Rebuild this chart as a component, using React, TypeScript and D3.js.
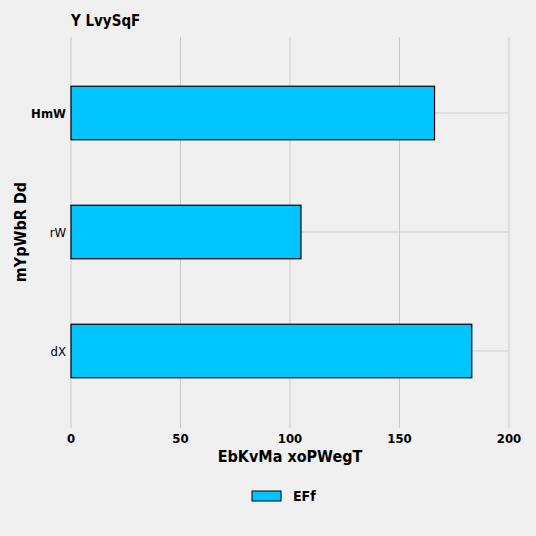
import { scaleBand, scaleLinear } from "d3";

const categories = ["HmW", "rW", "dX"];
const values = [166, 105, 183];
const xTicks = [0, 50, 100, 150, 200];
const boldCats = ["HmW"];

const FONT = "'Liberation Sans Narrow', 'DejaVu Sans Condensed', 'Liberation Sans', sans-serif";

export default function App() {
  const x = scaleLinear().domain([0, 200]).range([71, 509]);
  const y = scaleBand<string>()
    .domain(categories)
    .range([53.5, 410.5])
    .paddingInner(0.55)
    .paddingOuter(0.275);

  return (
    <svg
      width={536}
      height={536}
      style={{ position: "absolute", left: 0, top: 0, background: "#f0f0f0" }}
      fontFamily={FONT}
    >
      <rect width={536} height={536} fill="#f0f0f0" />
      <text x={71} y={26} fontSize={15} fontWeight="bold">Y LvySqF</text>

      {/* grid */}
      {xTicks.map((t) => (
        <line key={t} x1={x(t)} x2={x(t)} y1={37} y2={428} stroke="#cbcbcb" strokeWidth={1} />
      ))}
      {categories.map((c) => (
        <line
          key={c}
          x1={71}
          x2={509}
          y1={y(c)! + y.bandwidth() / 2}
          y2={y(c)! + y.bandwidth() / 2}
          stroke="#cbcbcb"
        />
      ))}

      {/* bars */}
      {categories.map((c, i) => (
        <rect
          key={c}
          x={x(0)}
          y={y(c)}
          width={x(values[i]) - x(0)}
          height={y.bandwidth()}
          fill="#00c5ff"
          stroke="#000"
          strokeWidth={1.2}
        />
      ))}

      {/* y labels */}
      {categories.map((c) => (
        <text
          key={c}
          x={66}
          y={y(c)! + y.bandwidth() / 2}
          textAnchor="end"
          dominantBaseline="central"
          fontSize={13}
          fontWeight={boldCats.includes(c) ? "bold" : "normal"}
        >
          {c}
        </text>
      ))}

      {/* x ticks */}
      {xTicks.map((t) => (
        <text key={t} x={x(t)} y={443} textAnchor="middle" fontSize={13} fontWeight="bold">
          {t}
        </text>
      ))}

      <text x={290} y={462} textAnchor="middle" fontSize={16} fontWeight="bold">
        EbKvMa xoPWegT
      </text>
      <text
        transform="translate(26,232) rotate(-90)"
        textAnchor="middle"
        fontSize={16}
        fontWeight="bold"
      >
        mYpWbR Dd
      </text>

      {/* legend */}
      <rect x={252} y={491} width={29} height={10} fill="#00c5ff" stroke="#000" strokeWidth={1} />
      <text x={293} y={501} fontSize={14} fontWeight="bold">EFf</text>
    </svg>
  );
}
